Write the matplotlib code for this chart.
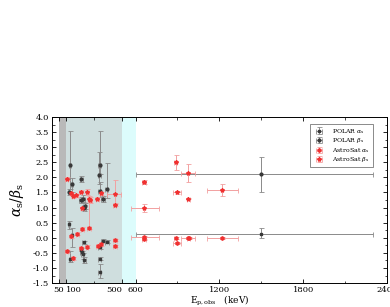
import numpy as np
import matplotlib
matplotlib.use("Agg")
import matplotlib.pyplot as plt
from matplotlib.ticker import MultipleLocator, FixedLocator, FormatStrFormatter

plt.rcParams['font.family'] = 'DejaVu Serif'
plt.rcParams['mathtext.fontset'] = 'dejavuserif'

# POLAR beta_s (upper group)
pb_E    = [129, 145, 124, 212, 207, 225, 236, 232, 343, 341, 343, 367, 393, 1500]
pb_Elo  = [8, 8, 8, 10, 10, 10, 10, 10, 12, 12, 12, 12, 12, 900]
pb_Ehi  = [8, 8, 8, 10, 10, 10, 10, 10, 12, 12, 12, 12, 12, 800]
pb_v    = [2.40, 1.77, 1.50, 1.93, 1.25, 1.30, 1.05, 0.98, 2.42, 2.07, 1.55, 1.29, 1.63, 2.12]
pb_vlo  = [0.80, 0.25, 0.10, 0.10, 0.10, 0.10, 0.10, 0.10, 0.30, 0.30, 0.20, 0.10, 0.30, 0.59]
pb_vhi  = [1.15, 0.20, 0.10, 0.10, 0.10, 0.10, 0.10, 0.10, 1.13, 0.78, 0.30, 0.10, 0.85, 0.56]

# POLAR alpha_s (lower group)
pa_E    = [124, 145, 133, 229, 212, 215, 222, 231, 367, 395, 343, 343, 343, 1500]
pa_Elo  = [8, 8, 8, 10, 10, 10, 10, 10, 12, 12, 12, 12, 12, 900]
pa_Ehi  = [8, 8, 8, 10, 10, 10, 10, 10, 12, 12, 12, 12, 12, 800]
pa_v    = [0.45, 0.08, -0.70, -0.15, -0.40, -0.48, -0.55, -0.75, -0.10, -0.13, -0.32, -0.70, -1.12, 0.13]
pa_vlo  = [0.15, 0.40, 0.10, 0.05, 0.05, 0.05, 0.15, 0.10, 0.05, 0.05, 0.05, 0.05, 0.20, 0.15]
pa_vhi  = [0.12, 0.25, 0.25, 0.05, 0.05, 0.05, 0.05, 0.10, 0.05, 0.05, 0.05, 0.05, 0.25, 0.18]

# AstroSat beta_s
ab_E    = [105, 136, 150, 176, 207, 255, 219, 267, 275, 326, 355, 450, 450, 660, 660, 886, 974, 898, 976, 1217]
ab_Elo  = [8, 8, 8, 10, 10, 10, 10, 10, 10, 12, 12, 55, 12, 15, 90, 10, 48, 30, 10, 107]
ab_Ehi  = [8, 8, 8, 10, 10, 10, 10, 10, 10, 12, 12, 45, 12, 15, 105, 10, 48, 30, 10, 114]
ab_v    = [1.96, 1.47, 1.38, 1.40, 1.52, 1.50, 0.98, 1.28, 1.25, 1.30, 1.48, 1.46, 1.10, 1.85, 0.98, 2.50, 2.15, 1.51, 1.30, 1.58]
ab_vlo  = [0.05, 0.05, 0.05, 0.05, 0.05, 0.10, 0.05, 0.10, 0.10, 0.05, 0.05, 0.35, 0.05, 0.06, 0.13, 0.24, 0.30, 0.05, 0.03, 0.20]
ab_vhi  = [0.05, 0.05, 0.05, 0.05, 0.05, 0.10, 0.05, 0.10, 0.10, 0.05, 0.05, 0.45, 0.05, 0.06, 0.15, 0.24, 0.29, 0.05, 0.03, 0.21]

# AstroSat alpha_s
aa_E    = [105, 148, 140, 181, 219, 267, 207, 252, 331, 350, 450, 450, 660, 660, 886, 898, 976, 980, 1217]
aa_Elo  = [8, 8, 8, 10, 10, 12, 10, 10, 12, 12, 15, 15, 90, 15, 10, 30, 48, 10, 107]
aa_Ehi  = [8, 8, 8, 10, 10, 12, 10, 10, 12, 12, 15, 15, 105, 15, 10, 30, 48, 10, 114]
aa_v    = [-0.45, -0.68, 0.05, 0.14, 0.30, 0.33, -0.35, -0.30, -0.27, -0.22, -0.07, -0.27, 0.02, -0.03, 0.00, -0.18, 0.00, -0.02, -0.02]
aa_vlo  = [0.04, 0.05, 0.05, 0.04, 0.05, 0.05, 0.05, 0.05, 0.05, 0.05, 0.04, 0.04, 0.05, 0.05, 0.03, 0.03, 0.04, 0.03, 0.03]
aa_vhi  = [0.04, 0.05, 0.05, 0.04, 0.05, 0.95, 0.05, 0.05, 0.05, 0.05, 0.04, 0.04, 0.05, 0.05, 0.03, 0.03, 0.04, 0.03, 0.03]

xticks = [50, 100, 500, 600, 1200, 1800, 2400]
xtick_labels = ['50', '100', '500', '600', '1200', '1800', '2400']

fig = plt.figure(figsize=(3.9, 3.07), dpi=100)
ax = fig.add_axes([0.133, 0.078, 0.859, 0.541])

ax.axvspan(50, 100, color='#b9b9b9', lw=0, zorder=0)
ax.axvspan(100, 500, color='#cfdede', lw=0, zorder=0)
ax.axvspan(500, 600, color='#dcfcfc', lw=0, zorder=0)

gray_err = dict(ecolor='#8a8a8a', elinewidth=0.7, capsize=1.8, capthick=0.6, ls='none')
red_err = dict(ecolor='#f2a0a0', elinewidth=0.7, capsize=1.8, capthick=0.6, ls='none')

ax.errorbar(pa_E, pa_v, xerr=[pa_Elo, pa_Ehi], yerr=[pa_vlo, pa_vhi], marker='s', ms=2.0,
            mfc='#383838', mec='#383838', label=r'POLAR $\alpha_{\rm s}$', **gray_err)
ax.errorbar(pb_E, pb_v, xerr=[pb_Elo, pb_Ehi], yerr=[pb_vlo, pb_vhi], marker='o', ms=2.0,
            mfc='#383838', mec='#383838', label=r'POLAR $\beta_{\rm s}$', **gray_err)
ax.errorbar(aa_E, aa_v, xerr=[aa_Elo, aa_Ehi], yerr=[aa_vlo, aa_vhi], marker='h', ms=2.4,
            mfc='#f03030', mec='#f03030', label=r'AstroSat $\alpha_{\rm s}$', **red_err)
ax.errorbar(ab_E, ab_v, xerr=[ab_Elo, ab_Ehi], yerr=[ab_vlo, ab_vhi], marker='*', ms=3.0,
            mfc='#f03030', mec='#f03030', label=r'AstroSat $\beta_{\rm s}$', **red_err)

ax.set_xlim(0, 2400)
ax.set_ylim(-1.5, 4.0)
ax.xaxis.set_major_locator(FixedLocator(xticks))
ax.xaxis.set_minor_locator(FixedLocator([300, 900, 1500, 2100]))
ax.set_xticklabels(xtick_labels)
ax.yaxis.set_major_locator(MultipleLocator(0.5))
ax.yaxis.set_minor_locator(MultipleLocator(0.25))
ax.yaxis.set_major_formatter(FormatStrFormatter('%.1f'))
ax.tick_params(which='both', direction='in', top=True, right=True, labelsize=6, pad=2)
ax.tick_params(which='major', length=3, width=0.6)
ax.tick_params(which='minor', length=1.8, width=0.5)
for lab, ha in zip(ax.get_xticklabels(), ['center', 'left', 'right', 'center', 'center', 'center', 'center']):
    lab.set_ha(ha)
for s in ax.spines.values():
    s.set_linewidth(0.7)

ax.set_xlabel(r'E$_{\rm p,obs}$   (keV)', fontsize=6.5, labelpad=0)
ax.set_ylabel(r'$\alpha_{\rm s}/\beta_{\rm s}$', fontsize=10, labelpad=5)

leg = ax.legend(loc='upper right', fontsize=4.5, frameon=True, fancybox=False,
                edgecolor='#555555', borderpad=0.4, handletextpad=1.2,
                labelspacing=0.1, handlelength=2.0, bbox_to_anchor=(0.967, 0.975))
leg.get_frame().set_linewidth(0.6)

fig.savefig('out.png', dpi=100)
